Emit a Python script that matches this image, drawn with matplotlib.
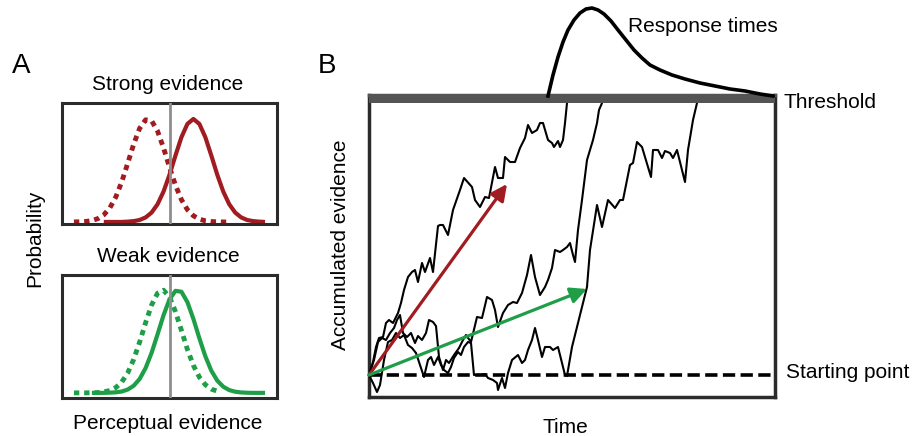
import matplotlib
matplotlib.use("Agg")
import matplotlib.pyplot as plt
import numpy as np

plt.rcParams['font.family'] = ['Liberation Sans', 'DejaVu Sans']

nan = np.nan

# ---- panel A: distributions of perceptual evidence ----
grid = np.arange(0.5, 8.75, 0.25)
strong_solid = [nan, nan, nan, nan, nan, 0, 0, 0, 0, 0.003, 0.008, 0.019, 0.044,
                0.091, 0.172, 0.295, 0.458, 0.645, 0.823, 0.952, 1.0, 0.952, 0.823,
                0.645, 0.458, 0.295, 0.172, 0.091, 0.044, 0.019, 0.008, 0.003, 0.0]
strong_dotted = [0, 0.002, 0.005, 0.013, 0.032, 0.069, 0.135, 0.241, 0.389, 0.569,
                 0.755, 0.909, 0.992, 0.983, 0.882, 0.719, 0.531, 0.356, 0.216,
                 0.119, 0.060, 0.027, 0.011, 0.004, 0.001, 0, 0,
                 nan, nan, nan, nan, nan, nan]
weak_solid = [nan, nan, nan, 0, 0, 0, 0.002, 0.005, 0.013, 0.032, 0.069, 0.135,
              0.241, 0.389, 0.569, 0.755, 0.909, 0.992, 0.983, 0.882, 0.719, 0.531,
              0.356, 0.216, 0.119, 0.060, 0.027, 0.011, 0.004, 0.001, 0, 0, 0]
weak_dotted = [0, 0, 0, 0.001, 0.003, 0.009, 0.023, 0.051, 0.105, 0.193, 0.325,
               0.494, 0.682, 0.854, 0.969, 0.998, 0.932, 0.789, 0.607, 0.422, 0.267,
               0.153, 0.079, 0.037, 0.016, nan, nan, nan, nan, nan, nan, nan, nan]
criterion = 4.5

# ---- panel B: accumulation traces (time, evidence in arbitrary units) ----
threshold = 272
t1 = [0, 4, 7, 10, 14, 17, 20, 24, 29, 32, 35, 39, 43, 46, 49, 53, 56, 61, 64, 69,
      71, 74, 79, 84, 91, 95, 103, 106, 111, 116, 120, 126, 129, 134, 136, 141, 146,
      151, 156, 159, 163, 168, 171, 174, 179, 183, 185, 189, 191, 194, 196, 198]
e1 = [0, 13, 28, 37, 38, 52, 55, 52, 62, 72, 85, 98, 103, 105, 93, 112, 103, 117,
      103, 149, 150, 150, 140, 165, 185, 197, 188, 175, 168, 178, 177, 208, 197, 197,
      218, 213, 213, 227, 237, 250, 242, 245, 252, 252, 235, 232, 228, 234, 228, 235,
      252, 272]
t2 = [0, 5, 9, 13, 17, 21, 25, 28, 31, 34, 38, 42, 46, 49, 53, 57, 60, 64, 67, 70,
      74, 77, 80, 85, 90, 94, 97, 102, 108, 113, 118, 123, 126, 129, 134, 139, 144,
      148, 153, 158, 162, 166, 171, 176, 179, 183, 186, 191, 194, 198, 201, 204, 206,
      209, 213, 218, 224, 228, 230, 233]
e2 = [0, 15, 33, 37, 35, 42, 47, 55, 60, 42, 38, 42, 32, 39, 35, 42, 55, 53, 49, 18,
      5, 15, 12, 20, 27, 35, 40, 33, 58, 57, 78, 75, 65, 48, 62, 70, 73, 72, 82, 100,
      120, 98, 80, 88, 95, 107, 125, 123, 125, 128, 132, 120, 113, 145, 175, 215, 235,
      252, 265, 272]
t3 = [0, 4, 8, 11, 15, 19, 23, 27, 31, 35, 39, 43, 47, 52, 55, 59, 62, 65, 69, 72,
      75, 79, 82, 85, 89, 92, 95, 99, 102, 105, 111, 116, 119, 124, 128, 129, 133, 136,
      139, 143, 149, 153, 156, 159, 163, 166, 169, 173, 176, 181, 184, 189, 193, 196,
      198, 203, 213, 218, 221, 228, 233, 239, 246, 251, 254, 261, 264, 268, 273, 282,
      284, 289, 293, 296, 301, 304, 308, 316, 319, 324, 328]
e3 = [0, -8, -17, -10, 15, 33, 35, 42, 37, 40, 30, 27, 22, 7, -2, 15, 18, 10, 18, 10,
      5, 2, 8, 17, 23, 20, 28, 33, 32, 0, 0, 1, -3, -5, -8, -15, -3, -13, 2, 15, 20,
      12, 15, 25, 35, 47, 35, 18, 28, 28, 25, 28, 12, 0, -1, 28, 68, 88, 125, 170, 148,
      175, 167, 175, 175, 210, 212, 233, 228, 198, 225, 225, 217, 224, 222, 217, 225,
      193, 225, 255, 272]
drift_strong = (138, 191)
drift_weak = (218, 86)

# response time distribution sitting on the threshold
rt_t = [179, 184, 189, 194, 199, 205, 211, 217, 223, 229, 235, 242, 249, 257, 265,
        273, 281, 291, 303, 316, 331, 346, 361, 376, 391, 404]
rt_e = [279, 300, 318, 333, 345, 355, 362, 366, 367, 365, 361, 354, 345, 335, 325,
        317, 310, 305, 300, 296, 292, 289, 286, 284, 281, 279]

red = '#a01c21'
green = '#1f9e48'
box = '#2b2b2b'

W, H = 916, 436
fig = plt.figure(figsize=(W / 100, H / 100), dpi=100)


def px_axes(x0, y0, x1, y1):
    return fig.add_axes([x0 / W, 1 - y1 / H, (x1 - x0) / W, (y1 - y0) / H])


def ftext(x, y, s, size=15, **kw):
    fig.text(x / W, 1 - y / H, s, fontsize=size, va='center', **kw)


def dist_panel(ax, solid, dotted, color, ylim):
    ax.plot(grid, dotted, color=color, lw=3.5, ls=(0, (1.1, 1.0)),
            dash_capstyle='butt', solid_capstyle='butt')
    ax.plot(grid, solid, color=color, lw=3.0, solid_capstyle='butt')
    ax.axvline(criterion, color='#8e8e8e', lw=2.0, zorder=3)
    ax.set_xlim(0, 9)
    ax.set_ylim(*ylim)
    ax.set_xticks([])
    ax.set_yticks([])
    for s in ax.spines.values():
        s.set_linewidth(2.2)
        s.set_color(box)


axA1 = px_axes(62, 103, 277, 224)
dist_panel(axA1, strong_solid, strong_dotted, red, (-0.02, 1.155))
axA2 = px_axes(62, 275, 277, 398)
dist_panel(axA2, weak_solid, weak_dotted, green, (-0.05, 1.146))

# panel B
axB = px_axes(369, 95, 775, 397)
axB.set_xlim(0, 406)
axB.set_ylim(-22, 280)
axB.axhspan(threshold, 280, color='#545454', lw=0, zorder=4)
axB.axhline(0, color='black', lw=2.6, ls=(0, (3.4, 1.5)), zorder=2)
for tt, ee in [(t1, e1), (t2, e2), (t3, e3)]:
    axB.plot(tt, ee, color='black', lw=1.5, zorder=3)
for tip, c in [(drift_strong, red), (drift_weak, green)]:
    axB.annotate('', xy=tip, xytext=(0, 0),
                 arrowprops=dict(arrowstyle='-|>,head_length=0.65,head_width=0.32',
                                 color=c, lw=2.3, mutation_scale=15,
                                 shrinkA=0, shrinkB=0), zorder=5)
axB.plot(rt_t, rt_e, color='black', lw=2.6, clip_on=False, zorder=6)
axB.set_xticks([])
axB.set_yticks([])
for name, s in axB.spines.items():
    s.set_linewidth(2.5)
    s.set_color('#545454' if name == 'top' else box)

# labels
ftext(12, 66, 'A', size=20)
ftext(318, 66, 'B', size=20)
ftext(168, 85, 'Strong evidence', ha='center')
ftext(168, 257, 'Weak evidence', ha='center')
ftext(35, 238, 'Probability', ha='center', rotation=90)
ftext(168, 423, 'Perceptual evidence', ha='center')
ftext(341, 245, 'Accumulated evidence', ha='center', rotation=90)
ftext(565, 427, 'Time', ha='center')
ftext(783, 103, 'Threshold', ha='left')
ftext(786, 372, 'Starting point', ha='left')
ftext(628, 27, 'Response times', ha='left')

fig.savefig('out.png', dpi=100)
